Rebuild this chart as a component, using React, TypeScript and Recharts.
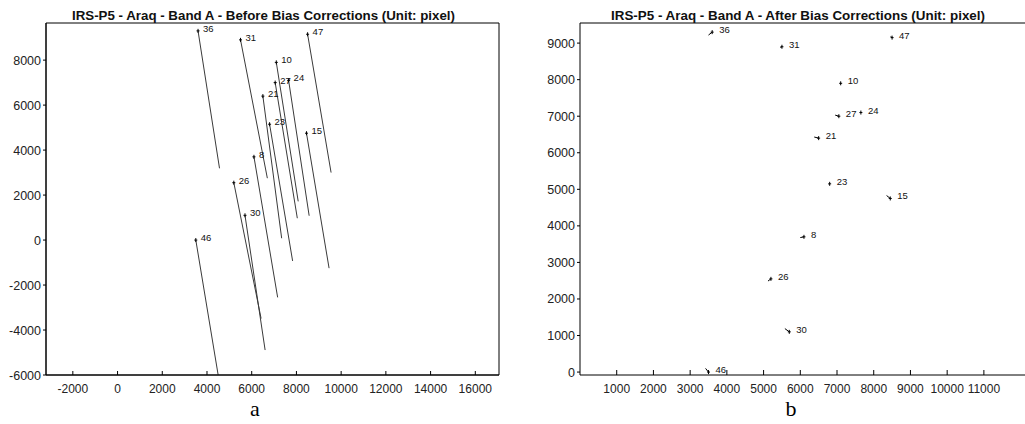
import { ReferenceArea, ReferenceLine, Scatter, ScatterChart, XAxis, YAxis } from 'recharts';

// GCP ids and positions (pixel coords of image)
const gcpIds = ['36', '31', '47', '10', '27', '24', '21', '23', '15', '8', '26', '30', '46'];
const gcpX = [3600, 5500, 8500, 7100, 7050, 7650, 6500, 6800, 8450, 6100, 5200, 5700, 3500];
const gcpY = [9300, 8900, 9150, 7900, 7000, 7100, 6400, 5150, 4750, 3700, 2550, 1100, 0];

// residual vector tips before bias correction (scaled)
const beforeEndX = [4560, 6700, 9550, 8080, 8040, 8570, 7340, 7830, 9460, 7160, 6420, 6600, 4500];
const beforeEndY = [3190, 2750, 3000, 1720, 970, 1080, 80, -930, -1250, -2550, -3490, -4890, -6000];

// residual vector tips after bias correction (scaled)
const afterEndX = [3500, 5460, 8460, 7080, 6950, 7640, 6380, 6790, 8350, 6000, 5120, 5580, 3420];
const afterEndY = [9220, 8880, 9180, 7890, 7030, 7110, 6430, 5140, 4830, 3680, 2490, 1190, 100];

const leftXTicks = [-2000, 0, 2000, 4000, 6000, 8000, 10000, 12000, 14000, 16000];
const leftYTicks = [-6000, -4000, -2000, 0, 2000, 4000, 6000, 8000];
const rightXTicks = [1000, 2000, 3000, 4000, 5000, 6000, 7000, 8000, 9000, 10000, 11000];
const rightYTicks = [0, 1000, 2000, 3000, 4000, 5000, 6000, 7000, 8000, 9000];

const leftXDomain = [-3200, 17060];
const leftYDomain = [-6000, 9650];
const rightXDomain = [0, 12120];
const rightYDomain = [-80, 9550];

const points = gcpIds.map((id, i) => ({ id, x: gcpX[i], y: gcpY[i] }));

const FONT = '"Liberation Sans", Arial, sans-serif';
const SERIF = '"Liberation Serif", "Times New Roman", serif';

const XTick = ({ x, y, payload, len }: any) => (
  <g>
    <line x1={x} y1={y} x2={x} y2={y - len} stroke="#000" />
    <text x={x} y={y + 18} textAnchor="middle" fontSize={12} fontFamily={FONT} fill="#222">
      {payload.value}
    </text>
  </g>
);

const YTick = ({ x, y, payload }: any) => (
  <g>
    <line x1={x} y1={y} x2={x - 3} y2={y} stroke="#000" />
    <text x={x - 5} y={y + 4.5} textAnchor="end" fontSize={12.5} fontFamily={FONT} fill="#222">
      {payload.value}
    </text>
  </g>
);

const Marker = ({ cx, cy, payload, dx }: any) => (
  <g>
    <line x1={cx - 1.5} y1={cy} x2={cx + 1.5} y2={cy} stroke="#000" />
    <line x1={cx} y1={cy - 2} x2={cx} y2={cy + 2} stroke="#000" />
    <text x={cx + dx} y={cy + 1} fontSize={9.5} fontFamily={FONT} fill="#111">
      {payload.id}
    </text>
  </g>
);

function BeforePanel() {
  return (
    <ScatterChart width={512} height={424} margin={{ top: 23, right: 13, bottom: 19, left: 0 }}>
      <XAxis
        type="number"
        dataKey="x"
        domain={leftXDomain}
        ticks={leftXTicks}
        interval={0}
        allowDataOverflow
        height={30}
        tickSize={0}
        tickMargin={0}
        tick={<XTick len={4} />}
        axisLine={{ stroke: '#000' }}
      />
      <YAxis
        type="number"
        dataKey="y"
        domain={leftYDomain}
        ticks={leftYTicks}
        interval={0}
        allowDataOverflow
        width={46}
        tickSize={0}
        tickMargin={0}
        tick={<YTick />}
        axisLine={{ stroke: '#000' }}
      />
      <ReferenceArea
        x1={leftXDomain[0]}
        x2={leftXDomain[1]}
        y1={leftYDomain[0]}
        y2={leftYDomain[1]}
        fill="none"
        stroke="#000"
        fillOpacity={0}
      />
      {points.map((p, i) => (
        <ReferenceLine
          key={p.id}
          segment={[
            { x: gcpX[i], y: gcpY[i] },
            { x: beforeEndX[i], y: beforeEndY[i] },
          ]}
          stroke="#3a3a3a"
          strokeWidth={1}
          ifOverflow="visible"
        />
      ))}
      <Scatter data={points} isAnimationActive={false} shape={(props: any) => <Marker {...props} dx={5} />} />
    </ScatterChart>
  );
}

function AfterPanel() {
  return (
    <ScatterChart width={513} height={424} margin={{ top: 23, right: 0, bottom: 19, left: 0 }}>
      <XAxis
        type="number"
        dataKey="x"
        domain={rightXDomain}
        ticks={rightXTicks}
        interval={0}
        allowDataOverflow
        height={30}
        tickSize={0}
        tickMargin={0}
        tick={<XTick len={5} />}
        axisLine={{ stroke: '#000' }}
      />
      <YAxis
        type="number"
        dataKey="y"
        domain={rightYDomain}
        ticks={rightYTicks}
        interval={0}
        allowDataOverflow
        width={68}
        tickSize={0}
        tickMargin={0}
        tick={<YTick />}
        axisLine={{ stroke: '#000' }}
      />
      <ReferenceLine y={rightYDomain[1]} stroke="#000" ifOverflow="visible" />
      {points.map((p, i) => (
        <ReferenceLine
          key={p.id}
          segment={[
            { x: gcpX[i], y: gcpY[i] },
            { x: afterEndX[i], y: afterEndY[i] },
          ]}
          stroke="#000"
          strokeWidth={1}
          ifOverflow="visible"
        />
      ))}
      <Scatter data={points} isAnimationActive={false} shape={(props: any) => <Marker {...props} dx={7} />} />
    </ScatterChart>
  );
}

export default function App() {
  return (
    <div style={{ position: 'absolute', left: 0, top: 0, width: 1025, height: 424, background: '#fff', overflow: 'hidden' }}>
      <div style={{ position: 'absolute', left: 0, top: 0 }}>
        <BeforePanel />
      </div>
      <div style={{ position: 'absolute', left: 512, top: 0 }}>
        <AfterPanel />
      </div>
      <svg width={1025} height={424} style={{ position: 'absolute', left: 0, top: 0, pointerEvents: 'none' }}>
        <text
          x={72}
          y={20}
          fontSize={12}
          fontWeight="bold"
          fontFamily={FONT}
          fill="#111"
          textLength={383}
          lengthAdjust="spacingAndGlyphs"
        >
          IRS-P5 - Araq - Band A - Before Bias Corrections (Unit: pixel)
        </text>
        <text
          x={611}
          y={20}
          fontSize={12}
          fontWeight="bold"
          fontFamily={FONT}
          fill="#111"
          textLength={374}
          lengthAdjust="spacingAndGlyphs"
        >
          IRS-P5 - Araq - Band A - After Bias Corrections (Unit: pixel)
        </text>
        <text x={255} y={416} textAnchor="middle" fontSize={22} fontFamily={SERIF} fill="#000">
          a
        </text>
        <text x={791} y={416} textAnchor="middle" fontSize={22} fontFamily={SERIF} fill="#000">
          b
        </text>
      </svg>
    </div>
  );
}
